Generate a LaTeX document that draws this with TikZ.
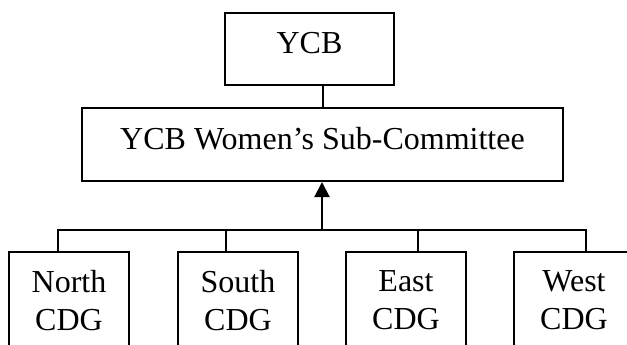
\documentclass[tikz,border=0pt]{standalone}
\usepackage{fontspec}
\setmainfont{Liberation Serif}
\usetikzlibrary{arrows.meta}
\begin{document}
\begin{tikzpicture}[x=1pt,y=-1pt,
  box/.style={draw, line width=2pt, inner sep=0pt, font=\fontsize{32}{38}\selectfont},
  topbox/.style={box, text height=21pt, text depth=11pt},
  cdgbox/.style={box, minimum width=120pt, minimum height=98pt, align=center},
  conn/.style={line width=2pt}]
\useasboundingbox (0,0) rectangle (627,345);
\clip (0,0) rectangle (627,345);
\node[topbox, minimum width=169pt, minimum height=72pt] (ycb) at (309.5,49) {YCB};
\node[topbox, text depth=12pt, minimum width=481pt, minimum height=73pt] (sub) at (322.5,144.5) {YCB Women’s Sub-Committee};
\node[cdgbox] (nb) at (69,300.5) {North\\CDG};
\node[cdgbox] (sb) at (238,300.5) {South\\CDG};
\node[cdgbox] (eb) at (406,300.5) {East\\CDG};
\node[cdgbox] (wb) at (574,300.5) {West\\CDG};
\coordinate (bus) at (322,230);
\draw[conn] (sub.north) -- (sub.north |- ycb.south);
\draw[conn, -{Triangle[width=15pt,length=15pt]}] (bus) -- (bus |- sub.south);
\draw[conn] ([xshift=-11pt]nb.north) |- (bus);
\draw[conn] ([xshift=-12pt]sb.north) |- (bus);
\draw[conn] ([xshift=12pt]eb.north) |- (bus);
\draw[conn] ([xshift=12pt]wb.north) |- (bus);
\end{tikzpicture}
\end{document}
